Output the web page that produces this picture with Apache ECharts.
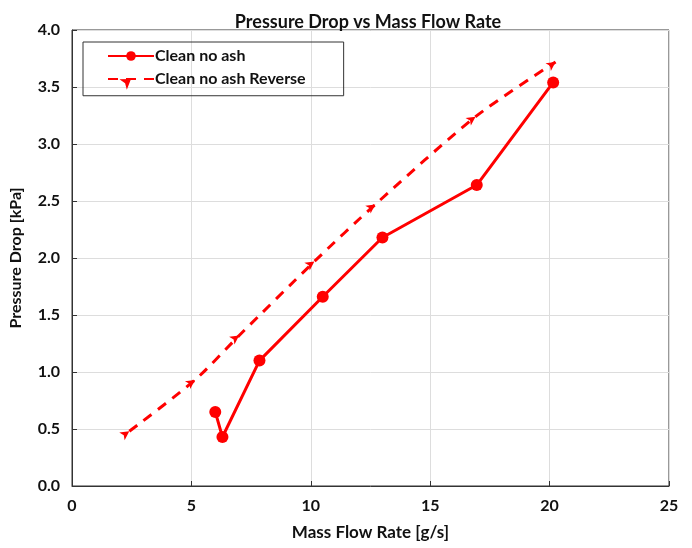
<!DOCTYPE html>
<html>
<head>
<meta charset="utf-8">
<script src="https://cdn.jsdelivr.net/npm/echarts@6/dist/echarts.min.js"></script>
</head>
<body style="margin:0;background:#fff;">
<div id="main" style="width:692px;height:548px;"></div>
<script type="text/javascript">
    // data
    var seriesNames = ['Clean no ash', 'Clean no ash Reverse'];
    var cleanFlow = [6.0, 6.3, 7.85, 10.5, 13.0, 16.95, 20.15];
    var cleanDrop = [0.65, 0.43, 1.10, 1.66, 2.18, 2.64, 3.54];
    var reverseFlow = [2.4, 5.15, 7.0, 10.15, 12.7, 16.9, 20.25];
    var reverseDrop = [0.48, 0.93, 1.32, 1.97, 2.47, 3.24, 3.72];

    function pairs(xs, ys) {
        var out = [];
        for (var i = 0; i < xs.length; i++) out.push([xs[i], ys[i]]);
        return out;
    }

    var font = 'Lato';
    var myChart = echarts.init(document.getElementById('main'));

    var option = {
        animation: false,
        backgroundColor: '#fff',
        title: {
            text: 'Pressure Drop vs Mass Flow Rate',
            left: 363, top: 8, textAlign: 'center',
            textStyle: {fontFamily: font, fontSize: 18, fontWeight: 'bold', color: '#111'}
        },
        legend: {
            left: 83, top: 42, orient: 'vertical',
            padding: [6, 38, 6, 24],
            itemGap: 7, itemWidth: 46, itemHeight: 12,
            borderColor: '#333', borderWidth: 1,
            textStyle: {fontFamily: font, fontSize: 16, fontWeight: 'bold', color: '#111', padding: [0, 0, 0, -4]},
            data: seriesNames
        },
        grid: {left: 70, right: 23, top: 30, bottom: 62, show: true, borderColor: '#333', borderWidth: 1},
        xAxis: {
            type: 'value', min: 0, max: 25, interval: 5,
            name: 'Mass Flow Rate [g/s]', nameLocation: 'middle', nameGap: 38,
            nameTextStyle: {fontFamily: font, fontSize: 17, fontWeight: 'bold', color: '#111'},
            axisLine: {show: true, lineStyle: {color: '#333'}},
            axisTick: {show: true, inside: true, length: 5, lineStyle: {color: '#333'}},
            axisLabel: {fontFamily: font, fontSize: 16, fontWeight: 'bold', color: '#111', margin: 12},
            splitLine: {show: true, lineStyle: {color: '#ddd'}}
        },
        yAxis: {
            type: 'value', min: 0, max: 4, interval: 0.5,
            name: 'Pressure Drop [kPa]', nameLocation: 'middle', nameGap: 48,
            nameTextStyle: {fontFamily: font, fontSize: 16, fontWeight: 'bold', color: '#111'},
            axisLine: {show: true, lineStyle: {color: '#333'}},
            axisTick: {show: true, inside: true, length: 5, lineStyle: {color: '#333'}},
            axisLabel: {
                fontFamily: font, fontSize: 16, fontWeight: 'bold', color: '#111', margin: 12,
                formatter: function (v) { return v.toFixed(1); }
            },
            splitLine: {show: true, lineStyle: {color: '#ddd'}}
        },
        series: [
            {
                name: seriesNames[0],
                type: 'line',
                data: pairs(cleanFlow, cleanDrop),
                symbol: 'circle', symbolSize: 12,
                itemStyle: {color: '#ff0000'},
                lineStyle: {color: '#ff0000', width: 3}
            },
            {
                name: seriesNames[1],
                type: 'line',
                data: pairs(reverseFlow, reverseDrop),
                smooth: 0.25,
                symbol: 'arrow', symbolSize: [7, 9], symbolRotate: -55,
                itemStyle: {color: '#ff0000'},
                lineStyle: {color: '#ff0000', width: 3, type: [10, 8]}
            }
        ]
    };

    myChart.setOption(option);
</script>
</body>
</html>
